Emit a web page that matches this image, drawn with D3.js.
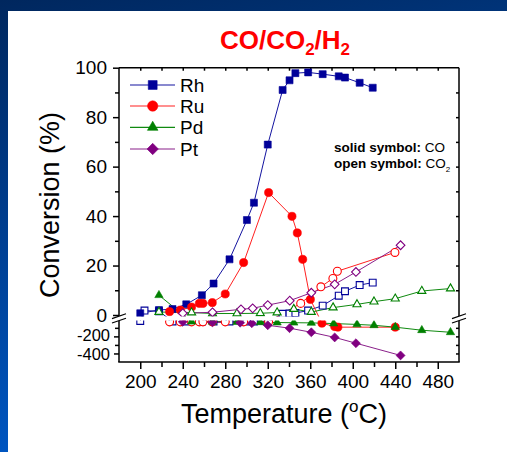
<!DOCTYPE html>
<html><head><meta charset="utf-8">
<script src="https://cdn.jsdelivr.net/npm/d3@7"></script>
<style>
html,body{margin:0;padding:0;background:#fff;}
svg{display:block;font-family:"Liberation Sans",Arial,Helvetica,sans-serif;}
</style></head><body>
<svg id="chart" width="507" height="452"></svg>
<script>
// ---- data: [temperature °C, conversion %] ----
const xMajorTicks = [200, 240, 280, 320, 360, 400, 440, 480];
const upperTicks = [0, 20, 40, 60, 80, 100];
const lowerTicks = [-200, -400];

const rhCO = [[200,0.7],[217.6,2.0],[230.4,2.4],[243.3,4.3],[258,8.0],[269,12.7],[284,22.5],[300.4,38.4],[307,45.4],[320,68.9],[334,91.0],[340.5,94.9],[346,97.8],[358,98.1],[371.7,97.4],[386.8,96.5],[392.7,96.0],[406.5,93.9],[418.8,91.9]];
const rhCO2 = [[200,-20],[204,1.8],[217.6,1.5],[230.4,-25],[243.3,-25],[258,-25],[269,-25],[284,-25],[300.4,-25],[307,-25],[320,-25],[334,0.5],[340.5,0.6],[346,0.8],[358,1.8],[371.7,3.8],[386.8,7.8],[392.7,9.6],[406.5,12.1],[418.8,13.1]];
const ruCO = [[227.6,1.35],[237.7,2.0],[248.3,3.2],[255.6,4.7],[259,4.7],[267.8,5.0],[280,8.5],[297.3,21.2],[320.8,49.5],[342.8,39.9],[347.8,33.2],[352.9,22.5],[360.1,6.3],[371,-46],[383,-85],[386,-92],[440,-92]];
const ruCO2 = [[227.6,-30],[237.7,-30],[248.3,-30],[255.6,-30],[259,-30],[267.8,-30],[280,-30],[297.3,-30],[320.8,-30],[351,4.7],[370,11.4],[381.3,14.8],[385.5,17.7],[439.7,25.3]];
const pdCO = [[217.6,8.0],[248.3,-28],[268,-30],[291,-32],[313,-35],[328.8,-38],[344.5,-40],[361,-42],[382,-50],[404,-60],[420,-70],[440,-92],[465,-128],[492,-152]];
const pdCO2 = [[217.6,1.2],[248.3,1.0],[268,0.6],[291,0.6],[313,0.7],[328.8,1.0],[344.5,2.4],[361,1.2],[381.5,3.0],[404,4.3],[420,5.4],[440,6.6],[465,9.7],[492,10.7]];
const ptCO = [[240,-30],[268,-35],[294,-40],[305,-46],[320,-70],[340.5,-104],[361,-152],[383,-212],[403,-280],[445,-423]];
const ptCO2 = [[240,0.7],[268,1.1],[294.8,2.3],[305.8,2.7],[320,4.0],[340.7,5.8],[361,9.0],[383,12.4],[403,17.4],[445,28.2]];

const metals = ["Rh", "Ru", "Pd", "Pt"];
const metalColors = ["#000099", "#ff0000", "#008000", "#800080"];
const lineColors = ["#1414a0", "#ff2020", "#108a10", "#8a208a"];

// ---- layout ----
const svg = d3.select("#chart");
const L = 119, R = 459, T = 67.7, B = 362;
const upBot = 316.5, loTop = 320.5;

const x = d3.scaleLinear().domain([180, 500]).range([L, R]);
const yUp = d3.scaleLinear().domain([0, 100]).range([315, T]);
const yLo = d3.scaleLinear().domain([-500, 0]).range([B, 319.3]);
const y = v => v >= 0 ? yUp(v) : yLo(v);

// background: slide frame and white panel
const defs = svg.append("defs");
const grad = defs.append("linearGradient").attr("id", "bg").attr("x1", 0).attr("y1", 0).attr("x2", 0.25).attr("y2", 1);
grad.append("stop").attr("offset", 0).attr("stop-color", "#00275e");
grad.append("stop").attr("offset", 1).attr("stop-color", "#0058c6");
svg.append("rect").attr("width", 507).attr("height", 452).attr("fill", "url(#bg)");
svg.append("rect").attr("x", 8).attr("y", 11).attr("width", 499).attr("height", 441).attr("fill", "#fff");

// clip regions for the two axis segments
const clipAll = defs.append("clipPath").attr("id", "segs");
clipAll.append("rect").attr("x", L).attr("y", 40).attr("width", R - L).attr("height", upBot - 40);
clipAll.append("rect").attr("x", L).attr("y", loTop).attr("width", R - L).attr("height", B - loTop);
defs.append("clipPath").attr("id", "upClip").append("rect").attr("x", L - 10).attr("y", 40).attr("width", R - L + 20).attr("height", upBot - 40);
defs.append("clipPath").attr("id", "loClip").append("rect").attr("x", L - 10).attr("y", loTop).attr("width", R - L + 20).attr("height", B - loTop);

// title
const title = svg.append("text").attr("x", 285).attr("y", 49).attr("text-anchor", "middle")
  .attr("fill", "#ff0000").attr("font-weight", "bold").attr("font-size", 26);
title.append("tspan").text("CO/CO");
title.append("tspan").attr("font-size", 17).attr("dy", 6).text("2");
title.append("tspan").attr("dy", -6).text("/H");
title.append("tspan").attr("font-size", 17).attr("dy", 6).text("2");

// ---- axes ----
const axisW = 1.5;
function styleAxis(g, fs) {
  g.select(".domain").remove();
  g.selectAll(".tick line").attr("stroke", "#000").attr("stroke-width", axisW);
  g.selectAll(".tick text").attr("font-size", fs).attr("fill", "#000").attr("font-family", "Liberation Sans, Arial, sans-serif");
}
// bottom
const gB = svg.append("g").attr("transform", `translate(0,${B})`)
  .call(d3.axisBottom(x).tickValues(xMajorTicks).tickSize(7).tickPadding(6).tickFormat(d3.format("d")));
styleAxis(gB, 19);
gB.selectAll(".tick text").attr("dy", "0.71em");
const gBm = svg.append("g").attr("transform", `translate(0,${B})`)
  .call(d3.axisBottom(x).tickValues(d3.range(220, 480, 40)).tickSize(5).tickFormat(""));
styleAxis(gBm, 0);
// top (inward)
const gT = svg.append("g").attr("transform", `translate(0,${T})`)
  .call(d3.axisBottom(x).tickValues(d3.range(200, 500, 20)).tickSize(3).tickFormat(""));
styleAxis(gT, 0);
// left upper
const gLu = svg.append("g").attr("transform", `translate(${L},0)`)
  .call(d3.axisLeft(yUp).tickValues(upperTicks).tickSize(6).tickPadding(6).tickFormat(d => String(d)));
styleAxis(gLu, 19);
const gLum = svg.append("g").attr("transform", `translate(${L},0)`)
  .call(d3.axisLeft(yUp).tickValues(d3.range(10, 100, 20)).tickSize(4).tickFormat(""));
styleAxis(gLum, 0);
// left lower (labels nudged apart slightly so they stay clear of each other)
const gLl = svg.append("g").attr("transform", `translate(${L},0)`)
  .call(d3.axisLeft(yLo).tickValues(lowerTicks).tickSize(5).tickPadding(4).tickFormat(d => String(d)));
styleAxis(gLl, 16.5);
gLl.selectAll(".tick text").attr("y", d => d === -200 ? -1.2 : 1.2);
const gLlm = svg.append("g").attr("transform", `translate(${L},0)`)
  .call(d3.axisLeft(yLo).tickValues([-100, -300]).tickSize(4).tickFormat(""));
styleAxis(gLlm, 0);
// right (inward)
const gRu = svg.append("g").attr("transform", `translate(${R},0)`)
  .call(d3.axisRight(yUp).tickValues(d3.range(10, 100, 10)).tickSize(-3).tickFormat(""));
styleAxis(gRu, 0);
const gRl = svg.append("g").attr("transform", `translate(${R},0)`)
  .call(d3.axisRight(yLo).tickValues([-100, -200, -300, -400]).tickSize(-3).tickFormat(""));
styleAxis(gRl, 0);

// frame lines
const frame = svg.append("g").attr("stroke", "#000").attr("stroke-width", axisW).attr("fill", "none");
frame.append("line").attr("x1", L).attr("x2", R).attr("y1", T).attr("y2", T);
frame.append("line").attr("x1", L - 0.75).attr("x2", R + 0.75).attr("y1", B).attr("y2", B);
[L, R].forEach(px => {
  frame.append("line").attr("x1", px).attr("x2", px).attr("y1", T).attr("y2", upBot);
  frame.append("line").attr("x1", px).attr("x2", px).attr("y1", loTop).attr("y2", B);
});

// ---- series ----
const line = d3.line().x(d => x(d[0])).y(d => y(d[1]));
const symPath = (type, size) => d3.symbol().type(type).size(size)();
const markerDefs = [
  { type: d3.symbolSquare, size: 49, rot: 0 },
  { type: d3.symbolCircle, size: 52, rot: 0 },
  { type: d3.symbolTriangle, size: 30, rot: 0 },
  { type: d3.symbolSquare, size: 40, rot: 45 }
];

const seriesList = [
  { data: rhCO2, m: 0, open: true }, { data: rhCO, m: 0, open: false },
  { data: ruCO2, m: 1, open: true }, { data: ruCO, m: 1, open: false },
  { data: pdCO2, m: 2, open: true }, { data: pdCO, m: 2, open: false },
  { data: ptCO2, m: 3, open: true }, { data: ptCO, m: 3, open: false }
];

const plot = svg.append("g");
seriesList.forEach(s => {
  plot.append("path").attr("d", line(s.data)).attr("fill", "none")
    .attr("stroke", lineColors[s.m]).attr("stroke-width", 1).attr("clip-path", "url(#segs)");
});
seriesList.forEach(s => {
  const md = markerDefs[s.m];
  const p = symPath(md.type, s.open ? md.size * 0.95 : md.size);
  ["up", "lo"].forEach(seg => {
    const pts = s.data.filter(d => seg === "up" ? d[1] >= 0 : d[1] < 0);
    plot.append("g").attr("clip-path", `url(#${seg}Clip)`)
      .selectAll("path").data(pts).join("path")
      .attr("d", p)
      .attr("transform", d => `translate(${x(d[0])},${y(d[1])}) rotate(${md.rot})`)
      .attr("fill", s.open ? "#fff" : metalColors[s.m])
      .attr("stroke", metalColors[s.m])
      .attr("stroke-width", s.open ? 1.1 : 0.6);
  });
});

// axis break marks
function breakMark(px) {
  const g = svg.append("g");
  g.append("path").attr("d", `M${px - 7},${318.6} L${px + 7},${313.8} L${px + 7},${318.2} L${px - 7},${323} Z`).attr("fill", "#fff");
  g.append("line").attr("x1", px - 7).attr("y1", 318.6).attr("x2", px + 7).attr("y2", 313.8).attr("stroke", "#000").attr("stroke-width", 1.2);
  g.append("line").attr("x1", px - 7).attr("y1", 323).attr("x2", px + 7).attr("y2", 318.2).attr("stroke", "#000").attr("stroke-width", 1.2);
}
breakMark(L);
breakMark(R);

// ---- legend ----
const legend = svg.append("g");
const legRows = [85, 106, 127.3, 149];
metals.forEach((name, i) => {
  const ly = legRows[i];
  const md = markerDefs[i];
  legend.append("line").attr("x1", 130).attr("x2", 175).attr("y1", ly).attr("y2", ly)
    .attr("stroke", lineColors[i]).attr("stroke-width", 1.2);
  legend.append("path").attr("d", symPath(md.type, md.size * 1.6))
    .attr("transform", `translate(152.7,${ly}) rotate(${md.rot})`)
    .attr("fill", metalColors[i]).attr("stroke", metalColors[i]).attr("stroke-width", 0.6);
  legend.append("text").attr("x", 180).attr("y", ly + 6.8).attr("font-size", 19).attr("fill", "#000").text(name);
});

// symbol note
const n1 = svg.append("text").attr("x", 334).attr("y", 151.7).attr("font-size", 13.5).attr("fill", "#000");
n1.append("tspan").attr("font-weight", "bold").text("solid symbol:");
n1.append("tspan").text(" CO");
const n2 = svg.append("text").attr("x", 334).attr("y", 168.3).attr("font-size", 13.5).attr("fill", "#000");
n2.append("tspan").attr("font-weight", "bold").text("open symbol:");
n2.append("tspan").text(" CO");
n2.append("tspan").attr("font-size", 8).attr("dy", 4).text("2");

// axis titles
const xt = svg.append("text").attr("x", 284).attr("y", 422.7).attr("text-anchor", "middle").attr("font-size", 27).attr("fill", "#000");
xt.append("tspan").text("Temperature (");
xt.append("tspan").attr("font-size", 17).attr("dy", -11).text("o");
xt.append("tspan").attr("dy", 11).text("C)");

svg.append("text").attr("transform", "translate(58.5,205) rotate(-90)").attr("text-anchor", "middle")
  .attr("font-size", 27).attr("fill", "#000").text("Conversion (%)");
</script>
</body></html>
